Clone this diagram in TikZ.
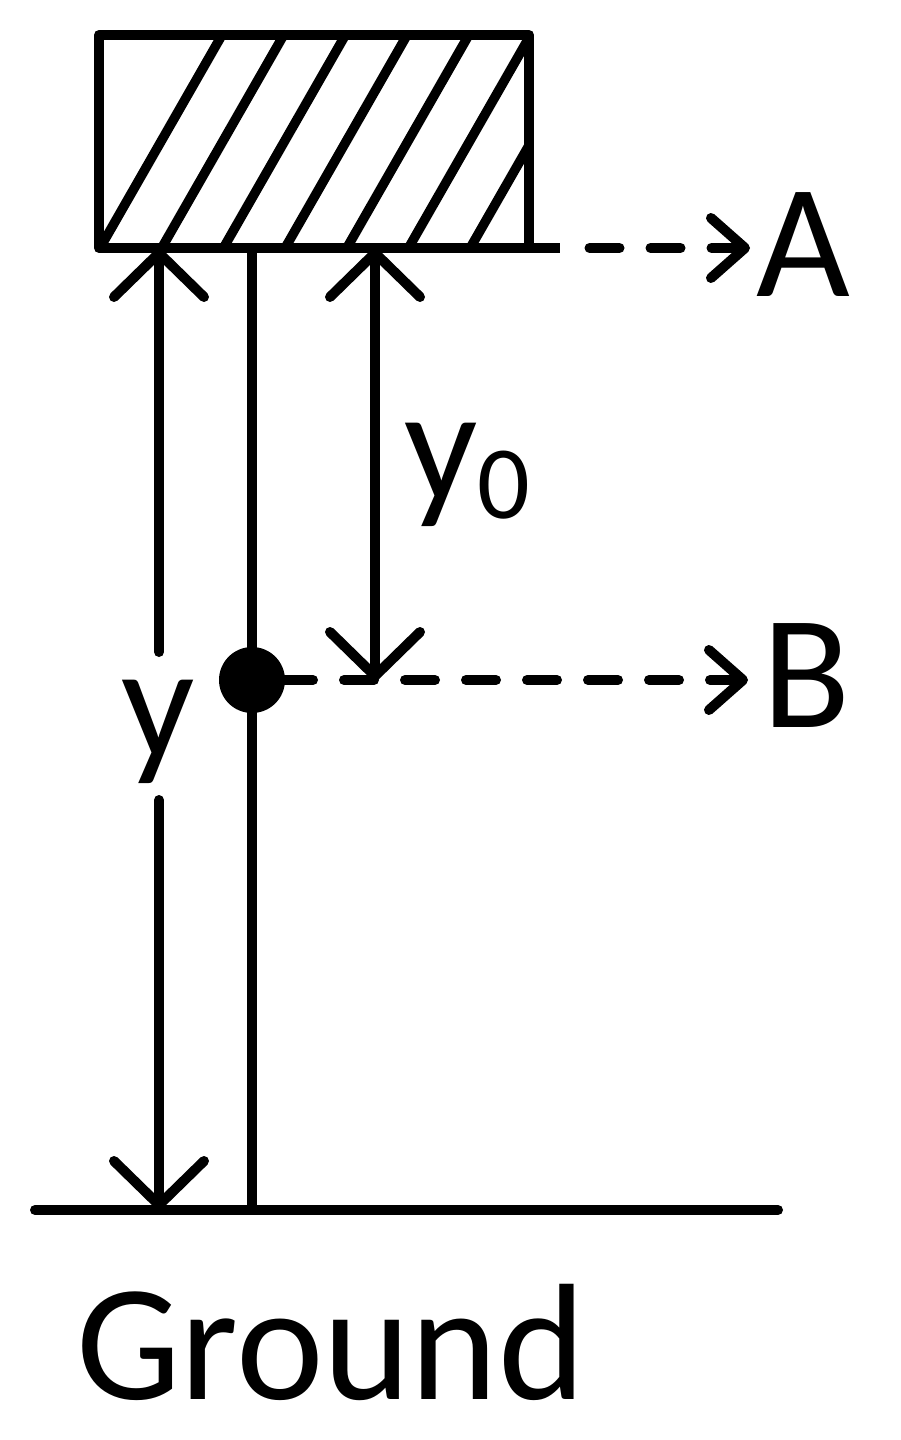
\documentclass[tikz,border=0pt]{standalone}
\usepackage{fontspec}
\setmainfont{Carlito}
\usetikzlibrary{arrows.meta}
\begin{document}
\begin{tikzpicture}[x=1pt,y=-1pt,
  heavy/.style={line width=10pt},
  hatchline/.style={line width=9.5pt},
  dimline/.style={line width=10pt, line cap=round},
  dashedarrow/.style={line width=10pt, line cap=round, dash pattern=on 30pt off 31pt, -{Straight Barb[length=34pt,width=60pt,round]}},
  lab/.style={font=\fontsize{162}{162}\selectfont, inner sep=0pt, anchor=base west},
  dot/.style={circle, fill=black, minimum size=66pt, inner sep=0pt}
]
\useasboundingbox (0,0) rectangle (900,1440);

% block
\coordinate (BL) at (99,248);
\coordinate (TR) at (529,35);
\begin{scope}
  \clip (BL) rectangle (TR);
  \foreach \k in {0,...,6} {
    \draw[hatchline] ({100+61.7*\k},248) -- ({222+61.7*\k},35);
  }
\end{scope}
\draw[heavy, line join=round] (BL) rectangle (TR);
\coordinate (Bext) at (560,248);
\draw[heavy] (BL) -- (Bext);

% ground
\coordinate (G1) at (35,1210);
\coordinate (G2) at (778,1210);
\draw[heavy, line cap=round] (G1) -- (G2);

% rod and dot
\coordinate (rodtop) at (252,248);
\coordinate (rodbot) at (252,1210);
\draw[heavy] (rodtop) -- (rodbot);
\node[dot] (mass) at (252,680) {};

% labels
\node[lab] (A) at (756,296) {A};
\node[lab] (B) at (762,727) {B};
\node[lab, anchor=base] (ylab) at (158,757) {y};
\node[lab] (y0lab) at (404,500) {y\raisebox{-18pt}{\fontsize{104}{104}\selectfont 0}};
\node[lab, font=\fontsize{166}{166}\selectfont] (ground) at (76,1399) {Ground};

% y dimension (left)
\coordinate (ytop) at (159,248);
\coordinate (ygapT) at (159,652);
\coordinate (ygapB) at (159,800);
\coordinate (ybot) at (159,1210);
\draw[dimline, -{Straight Barb[length=44pt,width=90pt,round]}] (ygapT) -- (ytop);
\draw[dimline, -{Straight Barb[length=44pt,width=90pt,round]}] (ygapB) -- (ybot);

% y0 dimension
\coordinate (y0top) at (375,248);
\coordinate (y0bot) at (375,681);
\draw[dimline, {Straight Barb[length=44pt,width=90pt,round]}-{Straight Barb[length=44pt,width=90pt,round]}] (y0top) -- (y0bot);

% dashed arrows
\coordinate (Astart) at (589.5,248);
\coordinate (Atip) at (750,248);
\draw[dashedarrow] (Astart) -- (Atip);
\coordinate (Bstart) at (283,680);
\coordinate (Btip) at (748,680);
\draw[dashedarrow] (Bstart) -- (Btip);
\end{tikzpicture}
\end{document}
